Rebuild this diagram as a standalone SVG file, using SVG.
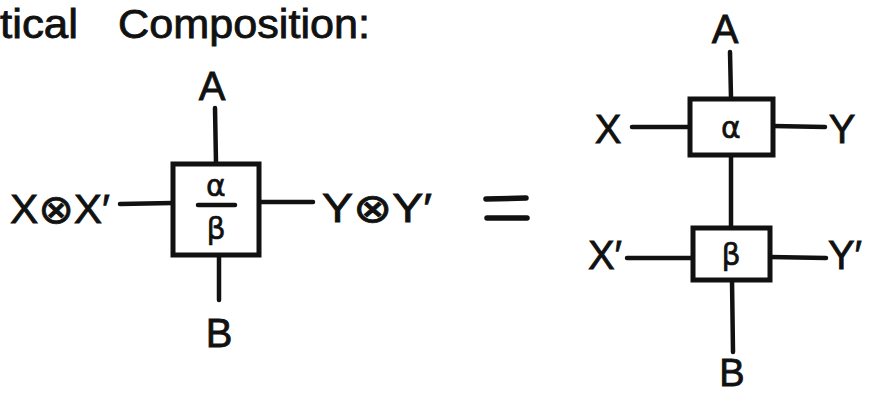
<svg xmlns="http://www.w3.org/2000/svg" width="874" height="396" viewBox="0 0 874 396">
<style>
.w{stroke:#111;stroke-width:4.5;stroke-linecap:round;fill:none}
.b{stroke:#111;stroke-width:5;fill:#fff}
.t{font-family:"Liberation Sans","DejaVu Sans",sans-serif;fill:#111;stroke:#111;stroke-width:0.8}
.lbl{font-size:40px}
.g{font-family:"DejaVu Sans",sans-serif;fill:#111;stroke:#111;stroke-width:0.6;font-size:30px}
</style>
<rect width="874" height="396" fill="#fff"/>
<g id="title">
<text class="t" x="0" y="38" font-size="40" textLength="78" lengthAdjust="spacingAndGlyphs">tical</text>
<text class="t" x="118" y="38" font-size="40" textLength="252" lengthAdjust="spacingAndGlyphs">Composition:</text>
</g>
<g id="connectors">
<line class="w" x1="215" y1="108" x2="216" y2="163"/>
<line class="w" x1="219" y1="255" x2="219" y2="300"/>
<line class="w" x1="120" y1="204" x2="172" y2="203"/>
<line class="w" x1="260" y1="202" x2="313" y2="202"/>
<line class="w" x1="730" y1="52" x2="731" y2="98"/>
<line class="w" x1="632" y1="127" x2="690" y2="127"/>
<line class="w" x1="773" y1="126" x2="825" y2="127"/>
<line class="w" x1="731" y1="155" x2="731" y2="228"/>
<line class="w" x1="627" y1="258" x2="693" y2="258"/>
<line class="w" x1="770" y1="257" x2="826" y2="258"/>
<line class="w" x1="732" y1="280" x2="733" y2="352"/>
</g>
<g id="node-left">
<rect class="b" x="173" y="164" width="86" height="91"/>
<text class="g" x="216" y="196" text-anchor="middle">α</text>
<line class="w" x1="198" y1="205" x2="235" y2="205"/>
<text class="g" x="216" y="239" text-anchor="middle">β</text>
</g>
<g id="label-A1"><text class="t lbl" x="212" y="100" text-anchor="middle">A</text></g>
<g id="label-B1"><text class="t lbl" x="219" y="347" text-anchor="middle">B</text></g>
<g id="label-XX"><text class="t lbl" x="10" y="223" textLength="100" lengthAdjust="spacingAndGlyphs">X⊗X′</text></g>
<g id="label-YY"><text class="t lbl" x="322" y="222" textLength="110" lengthAdjust="spacingAndGlyphs">Y⊗Y′</text></g>
<g id="equals">
<line x1="486" y1="199" x2="526" y2="198" stroke="#111" stroke-width="5.5" stroke-linecap="round"/>
<line x1="487" y1="218" x2="527" y2="218" stroke="#111" stroke-width="5.5" stroke-linecap="round"/>
</g>
<g id="node-alpha">
<rect class="b" x="690" y="99" width="83" height="56"/>
<text class="g" x="731" y="138" text-anchor="middle">α</text>
</g>
<g id="node-beta">
<rect class="b" x="693" y="228" width="77" height="52"/>
<text class="g" x="731" y="265" text-anchor="middle">β</text>
</g>
<g id="label-A2"><text class="t lbl" x="725" y="43" text-anchor="middle">A</text></g>
<g id="label-X"><text class="t lbl" x="608" y="143" text-anchor="middle">X</text></g>
<g id="label-Y"><text class="t lbl" x="842" y="143" text-anchor="middle">Y</text></g>
<g id="label-X2"><text class="t lbl" x="605" y="269" text-anchor="middle">X′</text></g>
<g id="label-Y2"><text class="t lbl" x="845" y="269" text-anchor="middle">Y′</text></g>
<g id="label-B2"><text class="t" font-size="38" x="732" y="386" text-anchor="middle">B</text></g>
</svg>
